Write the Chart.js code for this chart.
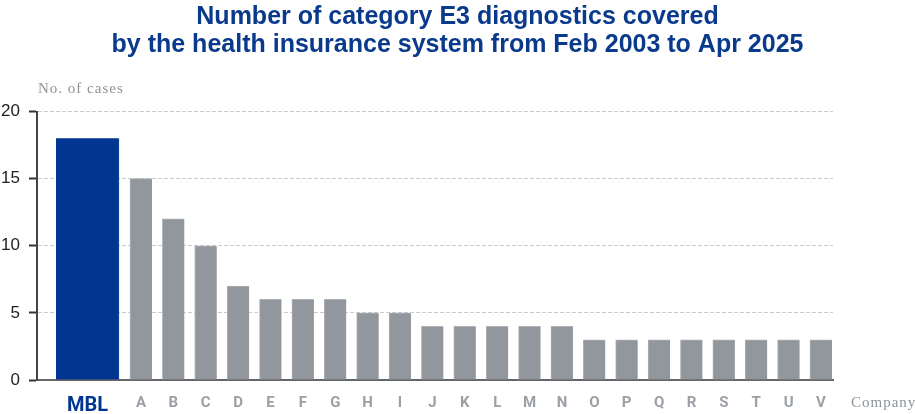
<!DOCTYPE html>
<html>
<head>
<meta charset="utf-8">
<script src="https://cdn.jsdelivr.net/npm/chart.js@4/dist/chart.umd.min.js"></script>
<style>
  html, body { margin: 0; padding: 0; background: #fff; }
  #wrap { width: 915px; height: 414px; position: relative; }
</style>
</head>
<body>
<div id="wrap"><canvas id="c" width="915" height="414"></canvas></div>
<script>
// ---- data ----
const titleLines = [
  'Number of category E3 diagnostics covered',
  'by the health insurance system from Feb 2003 to Apr 2025'
];
const categories = ['MBL','A','B','C','D','E','F','G','H','I','J','K','L','M','N','O','P','Q','R','S','T','U','V'];
const cases = [18,15,12,10,7,6,6,6,5,5,4,4,4,4,4,3,3,3,3,3,3,3,3];
const yTicks = [0,5,10,15,20];
const yAxisLabel = 'No. of cases';
const xAxisLabel = 'Company';

// ---- layout (category index -> axis units; MBL sits in a wider slot) ----
const MBL_GAP = 1.652;
const catPos = categories.map((c, i) => i === 0 ? -MBL_GAP : i - 1);

const BLUE = '#003591';
const GRAY = '#91979d';
const GRAY_TXT = '#9aa0a6';

const mblData = [{ x: catPos[0], y: cases[0] }];
const otherData = cases.slice(1).map((v, i) => ({ x: catPos[i + 1], y: v }));

const axisLabelPlugin = {
  id: 'axisLabels',
  afterDraw(chart) {
    const ctx = chart.ctx;
    const a = chart.chartArea;
    ctx.save();
    ctx.font = '15px "Liberation Serif", serif';
    ctx.fillStyle = '#8e9398';
    if ('letterSpacing' in ctx) ctx.letterSpacing = '1px';
    ctx.textBaseline = 'alphabetic';
    ctx.textAlign = 'left';
    ctx.fillText(yAxisLabel, a.left + 1, a.top - 18.5);
    ctx.fillText(xAxisLabel, a.right + 18, a.bottom + 27);
    ctx.restore();
  }
};

new Chart(document.getElementById('c'), {
  type: 'bar',
  data: {
    datasets: [
      { data: mblData, backgroundColor: BLUE, borderColor: '#1d4a9e', borderWidth: { right: 1 }, barThickness: 63, grouped: false },
      { data: otherData, backgroundColor: GRAY, borderColor: '#aab0b5', borderWidth: { left: 1, top: 1 }, barThickness: 22, grouped: false }
    ]
  },
  options: {
    responsive: false,
    animation: false,
    layout: { padding: { left: 0, right: 0, top: 0, bottom: 0 } },
    plugins: {
      legend: { display: false },
      tooltip: { enabled: false },
      title: {
        display: true,
        text: titleLines,
        color: '#0a3a8c',
        font: { family: '"Liberation Sans", Arial, sans-serif', size: 25, weight: 'bold', lineHeight: 28 / 25 },
        padding: { top: 3.3, bottom: 52.2 }
      }
    },
    scales: {
      x: {
        type: 'linear',
        min: -3.212,
        max: 21.371,
        offset: false,
        grid: { display: false, drawTicks: false, offset: false },
        border: { display: true, color: '#666', width: 2 },
        afterBuildTicks(scale) { scale.ticks = catPos.map(v => ({ value: v })); },
        afterFit(scale) { scale.height = 34; },
        ticks: {
          autoSkip: false,
          maxRotation: 0,
          padding: 14,
          callback: (value, index) => categories[index],
          color: (ctx) => ctx.index === 0 ? BLUE : GRAY_TXT,
          font: (ctx) => ctx.index === 0
            ? { family: 'Roboto, "Liberation Sans", sans-serif', size: 20, weight: 'bold' }
            : { family: 'Roboto, "Liberation Sans", sans-serif', size: 15, weight: 'bold' }
        }
      },
      y: {
        min: 0,
        max: 20,
        afterBuildTicks(scale) { scale.ticks = yTicks.map(v => ({ value: v })); },
        afterFit(scale) { scale.width = 37; },
        grid: {
          color: '#cccccc',
          lineWidth: 1,
          drawTicks: true,
          tickLength: 8,
          tickColor: '#333',
          tickWidth: 2,
          tickBorderDash: []
        },
        border: { display: true, color: '#444', width: 2, dash: [4, 2] },
        ticks: {
          padding: 9,
          color: '#222',
          font: { family: '"Liberation Sans", Arial, sans-serif', size: 17 },
          callback: (v) => String(v)
        }
      },
      yRight: {
        position: 'right',
        min: 0,
        max: 20,
        grid: { display: false, drawTicks: false },
        border: { display: false },
        ticks: { display: false },
        afterFit(scale) { scale.width = 82; }
      }
    }
  },
  plugins: [axisLabelPlugin]
});
</script>
</body>
</html>
